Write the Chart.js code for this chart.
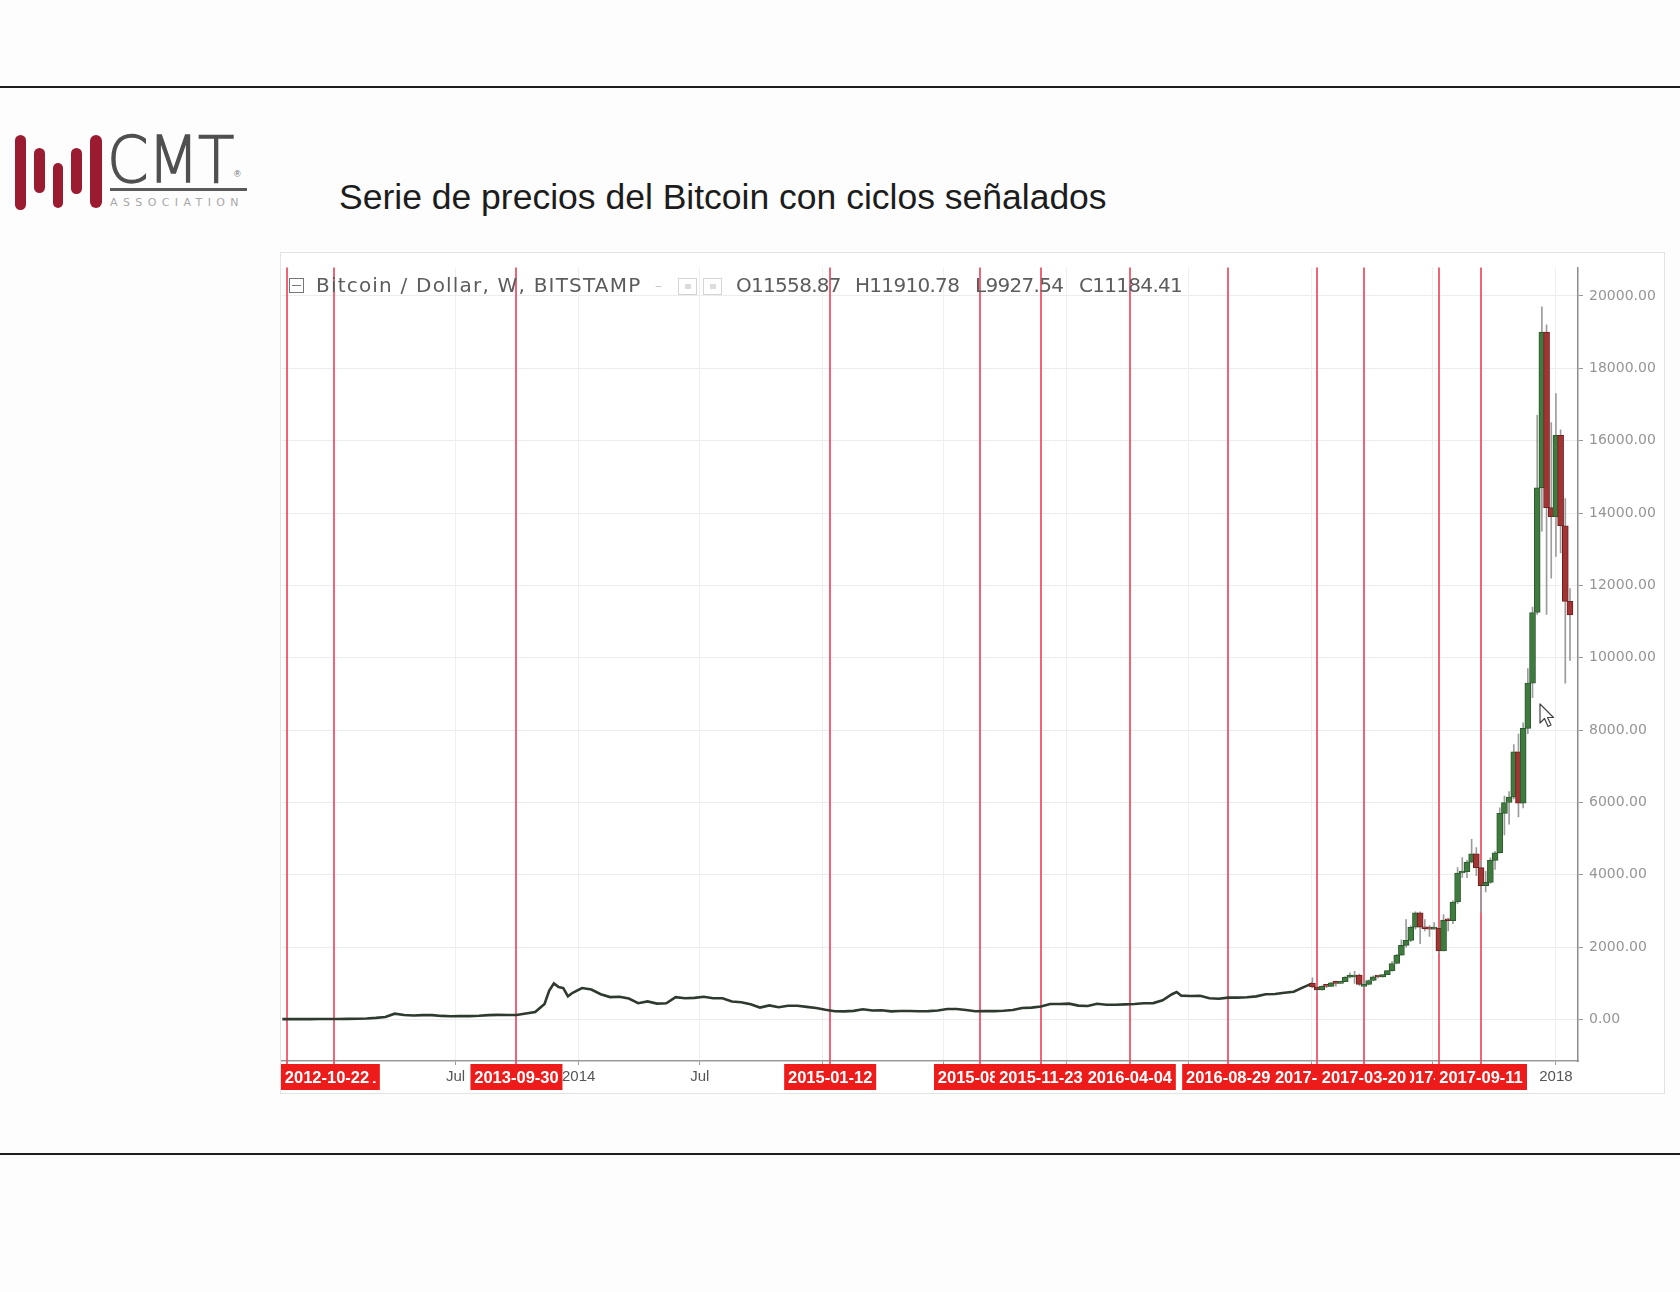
<!DOCTYPE html>
<html lang="es">
<head>
<meta charset="utf-8">
<title>Serie de precios del Bitcoin con ciclos señalados</title>
<script src="https://cdn.jsdelivr.net/npm/chart.js@4.4.1/dist/chart.umd.min.js"></script>
<style>
  html, body { margin: 0; padding: 0; }
  body { width: 1680px; height: 1292px; background: #fdfdfd; position: relative; overflow: hidden; font-family: 'Liberation Sans', Arial, sans-serif; }
  .rule { position: absolute; left: 0; width: 1680px; height: 2px; background: #1e1e1e; }
  .bar { position: absolute; background: #9b1b31; border-radius: 6px; }
  #cmt { position: absolute; left: 107px; top: 128px; font-family: 'DejaVu Sans', sans-serif; font-weight: 200; font-size: 64px; line-height: 64px; color: #505050; -webkit-text-stroke: 1.4px #505050; transform: scaleX(0.93); transform-origin: left top; letter-spacing: -1px; }
  #reg { position: absolute; left: 234px; top: 169px; font-size: 9px; color: #666; }
  #cmtLine { position: absolute; left: 110px; top: 188px; width: 137px; height: 3px; background: #5a5a5a; }
  #assoc { position: absolute; left: 110px; top: 196px; font-family: 'DejaVu Sans', sans-serif; font-size: 11px; line-height: 13px; letter-spacing: 5.4px; color: #a8a8a8; }
  #title { position: absolute; left: 339px; top: 180px; font-size: 35.5px; line-height: 35px; color: #1c1c1c; white-space: nowrap; }
  #panel { position: absolute; left: 281px; top: 253px; width: 1383px; height: 840px; background: #fff; outline: 1px solid #e3e3e3; }
  #panel canvas { position: absolute; left: 0; top: 0; }
  .leg { position: absolute; top: 21px; font-family: 'DejaVu Sans', sans-serif; font-size: 20px; line-height: 22px; color: #5c5c5c; white-space: nowrap; letter-spacing: -0.7px; }
  .ico { position: absolute; box-sizing: border-box; }
  #cursor { position: absolute; left: 1539px; top: 703px; }
</style>
</head>
<body>
<div class="rule" style="top:86px"></div>
<div class="rule" style="top:1153px"></div>

<!-- logo -->
<div class="bar" style="left:15px; top:135px; width:11px; height:75px"></div>
<div class="bar" style="left:34px; top:148px; width:11px; height:45px"></div>
<div class="bar" style="left:53px; top:163px; width:10px; height:45px"></div>
<div class="bar" style="left:71px; top:148px; width:11px; height:46px"></div>
<div class="bar" style="left:90px; top:135px; width:12px; height:73px"></div>
<div id="cmt">CMT</div>
<div id="reg">®</div>
<div id="cmtLine"></div>
<div id="assoc">ASSOCIATION</div>

<div id="title">Serie de precios del Bitcoin con ciclos señalados</div>

<div id="panel">
  <canvas id="btcChart" width="1383" height="840"></canvas>
  <div class="ico" style="left:8px; top:25px; width:15px; height:15px; border:1.5px solid #777"></div>
  <div class="ico" style="left:11px; top:31.5px; width:9px; height:1.5px; background:#777"></div>
  <div class="leg" style="left:35px; letter-spacing:1.2px">Bitcoin / Dollar, W, BITSTAMP</div>
  <div class="leg" style="left:374px; color:#c8c8c8; font-size:14px">–</div>
  <div class="ico" style="left:397px; top:25px; width:19px; height:17px; border:1.5px solid #d4d4d4"></div>
  <div class="ico" style="left:422px; top:25px; width:19px; height:17px; border:1.5px solid #d4d4d4"></div>
  <div class="ico" style="left:404px; top:31px; width:6px; height:5px; background:#dcdcdc"></div>
  <div class="ico" style="left:429px; top:31px; width:6px; height:5px; background:#dcdcdc"></div>
  <div class="leg" style="left:455px">O11558.87</div>
  <div class="leg" style="left:574px">H11910.78</div>
  <div class="leg" style="left:694px">L9927.54</div>
  <div class="leg" style="left:798px">C11184.41</div>
</div>

<svg id="cursor" width="16" height="26" viewBox="0 0 16 26">
  <path d="M1 1 L1 20 L5.5 15.5 L9 23.5 L12 22 L8.5 14.5 L14.5 14.5 Z" fill="#fff" stroke="#444" stroke-width="1.2" stroke-linejoin="round"/>
</svg>

<script>
// Precio de cierre semanal (muestreado) 2012-10 .. 2016-12
const lineDates = [
  '2012-10-15','2012-10-29','2012-11-12','2012-11-26','2012-12-10','2012-12-24',
  '2013-01-07','2013-01-21','2013-02-04','2013-02-18','2013-03-04','2013-03-18',
  '2013-04-01','2013-04-15','2013-04-29','2013-05-13','2013-05-27','2013-06-10',
  '2013-06-24','2013-07-08','2013-07-22','2013-08-05','2013-08-19','2013-09-02',
  '2013-09-16','2013-09-30','2013-10-14','2013-10-28','2013-11-11','2013-11-18',
  '2013-11-25','2013-12-02','2013-12-09','2013-12-16','2013-12-23','2014-01-06',
  '2014-01-20','2014-02-03','2014-02-17','2014-03-03','2014-03-17','2014-03-31',
  '2014-04-14','2014-04-28','2014-05-12','2014-05-26','2014-06-09','2014-06-23',
  '2014-07-07','2014-07-21','2014-08-04','2014-08-18','2014-09-01','2014-09-15',
  '2014-09-29','2014-10-13','2014-10-27','2014-11-10','2014-11-24','2014-12-08',
  '2014-12-22','2015-01-05','2015-01-19','2015-02-02','2015-02-16','2015-03-02',
  '2015-03-16','2015-03-30','2015-04-13','2015-04-27','2015-05-11','2015-05-25',
  '2015-06-08','2015-06-22','2015-07-06','2015-07-20','2015-08-03','2015-08-17',
  '2015-08-31','2015-09-14','2015-09-28','2015-10-12','2015-10-26','2015-11-09',
  '2015-11-23','2015-12-07','2015-12-21','2016-01-04','2016-01-18','2016-02-01',
  '2016-02-15','2016-02-29','2016-03-14','2016-03-28','2016-04-11','2016-04-25',
  '2016-05-09','2016-05-23','2016-06-06','2016-06-13','2016-06-20','2016-07-04',
  '2016-07-18','2016-08-01','2016-08-15','2016-08-29','2016-09-12','2016-09-26',
  '2016-10-10','2016-10-24','2016-11-07','2016-11-21','2016-12-05','2016-12-19',
  '2017-01-02'
];
const lineCloses = [
  11.7, 11.0, 11.2, 12.4, 13.4, 13.4,
  13.9, 17.5, 22, 29, 46, 71,
  162, 127, 112, 122, 121, 100,
  90, 97, 95, 105, 122, 128,
  126, 125, 165, 210, 430, 800,
  1000, 900, 870, 640, 740, 870,
  830, 700, 620, 630, 580, 450,
  500, 440, 450, 620, 590, 600,
  630, 590, 590, 500, 480, 420,
  330, 390, 340, 380, 380, 350,
  320, 270, 230, 225, 240, 285,
  250, 255, 225, 235, 238, 230,
  232, 250, 290, 290, 265, 230,
  235, 232, 245, 265, 320, 330,
  360, 430, 430, 440, 385, 375,
  435, 410, 410, 420, 430, 450,
  455, 530, 700, 760, 660, 650,
  655, 590, 575, 605, 605, 615,
  640, 700, 705, 740, 770, 890,
  1000
];

// Velas semanales 2017-01 .. 2018-01
const candleDates = [
  '2017-01-02','2017-01-09','2017-01-16','2017-01-23','2017-01-30','2017-02-06','2017-02-13',
  '2017-02-20','2017-02-27','2017-03-06','2017-03-13','2017-03-20','2017-03-27','2017-04-03',
  '2017-04-10','2017-04-17','2017-04-24','2017-05-01','2017-05-08','2017-05-15','2017-05-22',
  '2017-05-29','2017-06-05','2017-06-12','2017-06-19','2017-06-26','2017-07-03','2017-07-10',
  '2017-07-17','2017-07-24','2017-07-31','2017-08-07','2017-08-14','2017-08-21','2017-08-28',
  '2017-09-04','2017-09-11','2017-09-18','2017-09-25','2017-10-02','2017-10-09','2017-10-16',
  '2017-10-23','2017-10-30','2017-11-06','2017-11-13','2017-11-20','2017-11-27','2017-12-04',
  '2017-12-11','2017-12-18','2017-12-25','2018-01-01','2018-01-08','2018-01-15','2018-01-22'
];
const candleOpen = [
  1000, 900, 820, 920, 915, 1015, 1000, 1050, 1170, 1230, 1230, 970, 970, 1080,
  1180, 1175, 1240, 1350, 1550, 1780, 2050, 2190, 2550, 2950, 2550, 2510, 2500, 2520,
  1900, 2750, 2730, 3250, 4050, 4090, 4350, 4580, 4200, 3700, 3790, 4400, 4610, 5700,
  6000, 6150, 7400, 5980, 8050, 9300, 11250, 14700, 19000, 14150, 13900, 16150, 13650, 11558.87
];
const candleHigh = [
  1150, 910, 930, 930, 1030, 1060, 1060, 1190, 1290, 1330, 1260, 1070, 1100, 1210,
  1200, 1250, 1360, 1600, 1800, 2200, 2760, 2590, 2980, 2980, 2760, 2600, 2680, 2530,
  2900, 2800, 3280, 4200, 4480, 4400, 4980, 4750, 4400, 4100, 4470, 4650, 5850, 6180,
  6300, 7600, 7890, 8200, 9700, 11400, 16700, 19700, 19200, 16500, 17300, 16300, 14400, 11910.78
];
const candleLow = [
  880, 750, 810, 880, 910, 920, 990, 1050, 1150, 1000, 940, 890, 960, 1070,
  1150, 1170, 1240, 1340, 1540, 1770, 2000, 2150, 2500, 2100, 2450, 2300, 2490, 1830,
  1900, 2450, 2650, 3200, 3930, 3920, 4330, 3980, 2970, 3530, 3760, 4150, 4600, 5100,
  5400, 6100, 5600, 5850, 7900, 8900, 11200, 13500, 11200, 12200, 12800, 12900, 9300, 9927.54
];
const candleClose = [
  900, 820, 920, 915, 1015, 1000, 1050, 1170, 1230, 1230, 970, 970, 1080, 1180,
  1175, 1240, 1350, 1550, 1780, 2050, 2190, 2550, 2950, 2550, 2510, 2500, 2520, 1900,
  2750, 2730, 3250, 4050, 4090, 4350, 4580, 4200, 3700, 3790, 4400, 4610, 5700, 6000,
  6150, 7400, 5980, 8050, 9300, 11250, 14700, 19000, 14150, 13900, 16150, 13650, 11560, 11184.41
];

// Fechas de los ciclos (líneas rojas), en el orden en que se dibujan sus etiquetas
const cycleDates = [
  '2012-12-31','2017-07-10','2012-10-22','2013-09-30','2015-01-12','2015-08-24',
  '2015-11-23','2016-04-04','2016-08-29','2017-01-09','2017-03-20','2017-09-11'
];

// Marcas del eje X
const xTickDates = ['2013-07-01','2014-01-01','2014-07-01','2015-01-01','2015-07-01','2016-01-01',
  '2016-07-01','2017-01-01','2017-07-01','2018-01-01'];
const xTickLabels = ['Jul','2014','Jul','2015','Jul','2016','Jul','2017','Jul','2018'];

// Marcas del eje Y
const yTicks = [0, 2000, 4000, 6000, 8000, 10000, 12000, 14000, 16000, 18000, 20000];

// día (número) a partir de 'YYYY-MM-DD'
function dayNum(s) {
    const p = s.split('-').map(Number);
    return Date.UTC(p[0], p[1] - 1, p[2]) / 86400000;
}

// etiqueta de fecha del eje tapada por una etiqueta de ciclo
function hiddenByCycle(day) {
    return cycleDates.some(d => Math.abs(dayNum(d) - day) < 80);
}

const UP = '#3f7a3f', UP_EDGE = '#2c5a2c';
const DOWN = '#a33434', DOWN_EDGE = '#6e2222';

// líneas verticales rojas y etiquetas de fecha
const cycleMarks = {
    id: 'cycleMarks',
    beforeDatasetsDraw(chart) {
        const { ctx, chartArea, scales } = chart;
        ctx.save();
        ctx.strokeStyle = 'rgba(236, 74, 96, 0.85)';
        ctx.lineWidth = 2;
        cycleDates.forEach(d => {
            const x = Math.round(scales.x.getPixelForValue(dayNum(d)));
            ctx.beginPath();
            ctx.moveTo(x, chartArea.top);
            ctx.lineTo(x, chartArea.bottom + 3);
            ctx.stroke();
        });
        ctx.restore();
    },
    afterDraw(chart) {
        const { ctx, chartArea, scales } = chart;
        const boxW = 92, boxH = 26;
        const top = chartArea.bottom + 3;
        ctx.save();
        ctx.font = 'bold 16.5px "Liberation Sans", Arial, sans-serif';
        ctx.textAlign = 'center';
        ctx.textBaseline = 'middle';
        cycleDates.forEach(d => {
            const x = scales.x.getPixelForValue(dayNum(d));
            const left = Math.max(0, x - boxW / 2);
            ctx.fillStyle = '#ee1b1b';
            ctx.fillRect(left, top, boxW, boxH);
            ctx.fillStyle = '#ffffff';
            ctx.fillText(d, left + boxW / 2, top + boxH / 2 + 1);
        });
        ctx.restore();
    }
};

const ctx = document.getElementById('btcChart').getContext('2d');
const xMin = dayNum('2012-10-22') - 7.5;
const xMax = dayNum('2012-10-22') + 1930;

new Chart(ctx, {
    type: 'bar',
    data: {
        datasets: [
            {
                type: 'line',
                label: 'Cierre',
                data: lineDates.map((d, i) => ({ x: dayNum(d), y: lineCloses[i] })),
                borderColor: '#2e3a2e',
                borderWidth: 2.6,
                pointRadius: 0,
                tension: 0,
                order: 3
            },
            {
                label: 'Mechas',
                data: candleDates.map((d, i) => ({ x: dayNum(d), y: [candleLow[i], candleHigh[i]] })),
                backgroundColor: '#9c9c9c',
                barThickness: 1,
                grouped: false,
                order: 2
            },
            {
                label: 'Velas',
                data: candleDates.map((d, i) => ({ x: dayNum(d), y: [candleOpen[i], candleClose[i]] })),
                backgroundColor: candleOpen.map((o, i) => candleClose[i] >= o ? UP : DOWN),
                borderColor: candleOpen.map((o, i) => candleClose[i] >= o ? UP_EDGE : DOWN_EDGE),
                borderWidth: 1,
                borderSkipped: false,
                barThickness: 6,
                minBarLength: 2,
                grouped: false,
                order: 1
            }
        ]
    },
    options: {
        responsive: false,
        animation: false,
        layout: { padding: { left: 1, top: 4, right: 0, bottom: 0 } },
        plugins: {
            legend: { display: false },
            tooltip: { enabled: false }
        },
        scales: {
            x: {
                type: 'linear',
                min: xMin,
                max: xMax,
                offset: false,
                afterBuildTicks: s => { s.ticks = xTickDates.map(d => ({ value: dayNum(d) })); },
                afterFit: s => { s.height = 32; },
                ticks: {
                    autoSkip: false,
                    maxRotation: 0,
                    padding: 3,
                    color: '#555',
                    font: { family: 'Liberation Sans', size: 15 },
                    callback: (v, i) => hiddenByCycle(v) ? '' : xTickLabels[i]
                },
                grid: { color: '#efefef', tickColor: '#999', tickLength: 4, offset: false },
                border: { color: '#9a9a9a', width: 1.5 }
            },
            y: {
                type: 'linear',
                position: 'right',
                min: -1146,
                max: 20790,
                afterBuildTicks: s => { s.ticks = yTicks.map(v => ({ value: v })); },
                afterFit: s => { s.width = 86; },
                ticks: {
                    padding: 6,
                    color: '#959595',
                    font: { family: 'DejaVu Sans', size: 14 },
                    callback: v => v.toFixed(2)
                },
                grid: { color: '#ececec', tickColor: '#999', tickLength: 5 },
                border: { color: '#8c8c8c', width: 1.5 }
            }
        }
    },
    plugins: [cycleMarks]
});
</script>
</body>
</html>
